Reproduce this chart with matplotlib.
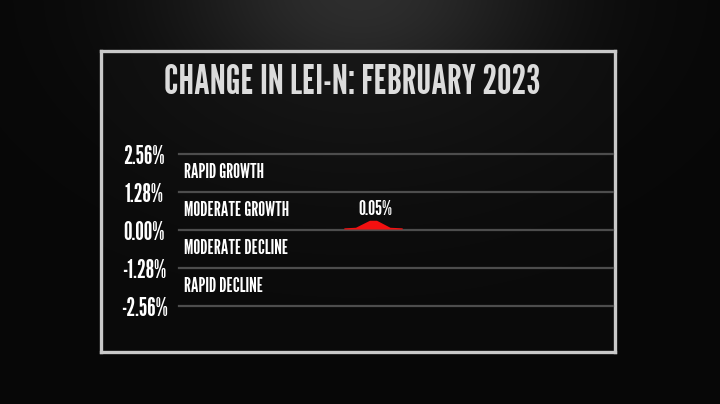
import numpy as np
import matplotlib
matplotlib.use("Agg")
import matplotlib.pyplot as plt
from matplotlib import font_manager
from matplotlib.font_manager import FontProperties
from matplotlib.textpath import TextPath
from matplotlib.path import Path

# ---- data ----
title = "CHANGE IN LEI-N: FEBRUARY 2023"
months = ["FEB 2023"]
values = [0.05]
value_labels = ["0.05%"]
y_ticks = [2.56, 1.28, 0.00, -1.28, -2.56]
y_tick_labels = ["2.56%", "1.28%", "0.00%", "-1.28%", "-2.56%"]
zones = ["RAPID GROWTH", "MODERATE GROWTH", "MODERATE DECLINE", "RAPID DECLINE"]
zone_centers = [1.92, 0.64, -0.64, -1.92]

# ---- choose a condensed display font ----
names = {f.name for f in font_manager.fontManager.ttflist}
candidates = ["Bebas Neue", "Antonio", "League Gothic", "Oswald", "Pathway Gothic One",
              "Saira ExtraCondensed", "Big Shoulders Text", "Fjalla One", "Anton"]
best, best_err = "DejaVu Sans", 1e9
for c in candidates:
    if c not in names:
        continue
    fp = FontProperties(family=c, weight="bold")
    ext = TextPath((0, 0), title, size=10, prop=fp).get_extents()
    cap = TextPath((0, 0), "H", size=10, prop=fp).get_extents().height
    err = abs(ext.width / cap - 372 / 30.0)
    if err < best_err:
        best, best_err = c, err
FAM = best


def fit_size(text, target_px, weight="bold"):
    fp = FontProperties(family=FAM, weight=weight)
    w = TextPath((0, 0), text, size=10, prop=fp).get_extents().width
    return 10 * target_px * 0.72 / w


W, H = 720, 404
fig = plt.figure(figsize=(W / 100, H / 100), dpi=100)
fig.patch.set_facecolor("#050505")

# background gradient
bg = fig.add_axes([0, 0, 1, 1])
yy, xx = np.mgrid[0:H, 0:W]
g = 0.03 + 0.15 * np.exp(-((xx - 360) / 190.0) ** 2 - ((yy + 10) / 130.0) ** 2)
bg.imshow(np.dstack([g, g, g]), extent=[0, W, H, 0], aspect="auto")
bg.set_axis_off()

# framed panel
fx0, fy0, fx1, fy1 = 101, 51, 615, 352
panel = fig.add_axes([fx0 / W, 1 - fy1 / H, (fx1 - fx0) / W, (fy1 - fy0) / H])
py, px = np.mgrid[0:fy1 - fy0, 0:fx1 - fx0]
pg = 0.04 + 0.05 * np.exp(-((px - 257) / 260.0) ** 2 - ((py + 20) / 160.0) ** 2)
panel.imshow(np.dstack([pg, pg, pg]), extent=[0, fx1 - fx0, fy1 - fy0, 0], aspect="auto")
panel.set_xticks([]); panel.set_yticks([])
for s in panel.spines.values():
    s.set_color("#c9c9c9")
    s.set_linewidth(2.4)

fig.text(352 / W, 1 - 83 / H, title, ha="center", va="center", color="#dcdcdc",
         fontsize=fit_size(title, 374), fontweight="bold", family=FAM)

# main chart axes
ax = fig.add_axes([179 / W, 1 - 306 / H, (613 - 179) / W, (306 - 154) / H])
ax.set_facecolor("none")
ax.set_ylim(-2.56, 2.56)
ax.set_xlim(-0.447, 0.553)
for s in ax.spines.values():
    s.set_visible(False)
ax.set_xticks([])
ax.set_yticks(y_ticks)
ax.set_yticklabels(y_tick_labels)
ax.tick_params(axis="y", length=0, pad=25, colors="white")
tick_fs = fit_size("2.56%", 40)
for lab in ax.get_yticklabels():
    lab.set_ha("center")
    lab.set_family(FAM)
    lab.set_fontweight("bold")
    lab.set_fontsize(tick_fs)
for t in y_ticks:
    ax.axhline(t, color="#4d4d4d", lw=1.6, zorder=1, clip_on=False)

zone_fs = fit_size("RAPID GROWTH", 79)
for z, c in zip(zones, zone_centers):
    ax.text(0.012, c, z, transform=ax.get_yaxis_transform(), ha="left", va="center",
            color="white", fontsize=zone_fs, fontweight="bold", family=FAM)

marker = Path([(-1, 0), (-1, 0.04), (-0.6, 0.06), (-0.12, 0.3), (0.12, 0.3),
               (0.58, 0.06), (1, 0.04), (1, 0), (-1, 0)],
              [Path.MOVETO] + [Path.LINETO] * 7 + [Path.CLOSEPOLY])
xs = np.arange(len(months))
ax.plot(xs, values, linestyle="none", marker=marker, markersize=42,
        color="#f41010", markeredgewidth=0, zorder=3)
val_fs = fit_size("0.05%", 33)
for x, v, lab in zip(xs, values, value_labels):
    ax.annotate(lab, (x, v), xytext=(2, 14), textcoords="offset points", ha="center",
                va="center", color="white", fontsize=val_fs, fontweight="bold", family=FAM)

fig.savefig("out.png", dpi=100, facecolor=fig.get_facecolor())
